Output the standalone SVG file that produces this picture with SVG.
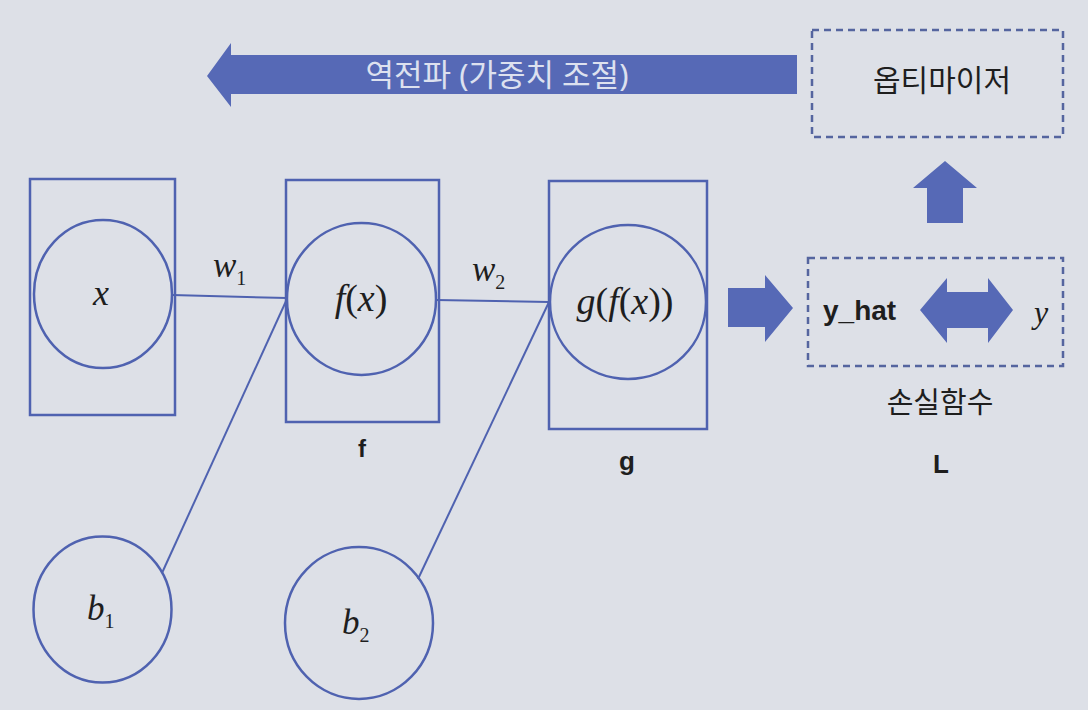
<svg xmlns="http://www.w3.org/2000/svg" width="1088" height="710" viewBox="0 0 1088 710">
<style>
.bg{fill:#dde0e7}
.box{fill:none;stroke:#4f62b0;stroke-width:2.5}
.node{fill:none;stroke:#4f62b0;stroke-width:2.5}
.dash{fill:none;stroke:#55659f;stroke-width:2.5;stroke-dasharray:7 5}
.edge{fill:none;stroke:#4f62b0;stroke-width:2}
.arrow{fill:#5669b6}
.math{font-family:"Liberation Serif",serif;font-style:italic;fill:#1e1e1e}
.sub{font-family:"Liberation Serif",serif;font-style:normal;fill:#1e1e1e}
.ko{font-family:"Noto Sans","Noto Sans CJK KR",sans-serif;fill:#1e1e1e}
.lab{font-family:"Liberation Sans",Arial,sans-serif;font-weight:bold;fill:#1e1e1e}
</style>
<rect class="bg" x="0" y="0" width="1088" height="710"/>

<g id="connectors">
<line class="edge" x1="172" y1="295" x2="287" y2="298"/>
<line class="edge" x1="436" y1="300" x2="549" y2="302"/>
<line class="edge" x1="162" y1="573" x2="287" y2="299"/>
<line class="edge" x1="418" y1="579" x2="549" y2="302"/>
<polygon class="arrow" points="728,288 765,288 765,275 793,308 765,342 765,327 728,327"/>
<polygon class="arrow" points="927,223 927,188 913,188 945,161 977,188 963,188 963,223"/>
<polygon class="arrow" points="920,310 947,278 947,292 988,292 988,278 1013,310 988,343 988,328 947,328 947,343"/>
</g>

<g id="backprop">
<polygon class="arrow" points="797,55 231,55 231,43 207,76 231,107 231,94 797,94"/>
<text class="ko" x="497" y="86" font-size="31" text-anchor="middle" style="fill:#dde1ef">역전파 (가중치 조절)</text>
</g>

<g id="optimizer">
<rect class="dash" x="812" y="30" width="251" height="107"/>
<text class="ko" x="942" y="91" font-size="30" text-anchor="middle">옵티마이저</text>
</g>

<g id="node-x">
<rect class="box" x="30" y="179" width="145" height="236"/>
<ellipse class="node" cx="103" cy="294" rx="69" ry="74"/>
<text class="math" x="101" y="305" font-size="36" text-anchor="middle">x</text>
</g>

<g id="node-f">
<rect class="box" x="286" y="180" width="153" height="242"/>
<ellipse class="node" cx="361.5" cy="299" rx="74.5" ry="76"/>
<text class="math" x="361" y="311" font-size="38" text-anchor="middle">f<tspan class="sub">(</tspan>x<tspan class="sub">)</tspan></text>
<text class="lab" x="362" y="457" font-size="24" text-anchor="middle">f</text>
</g>

<g id="node-g">
<rect class="box" x="549" y="181" width="158" height="248"/>
<ellipse class="node" cx="628" cy="302" rx="78" ry="77"/>
<text class="math" x="625" y="314" font-size="38" text-anchor="middle">g<tspan class="sub">(</tspan>f<tspan class="sub">(</tspan>x<tspan class="sub">))</tspan></text>
<text class="lab" x="627" y="470" font-size="26" text-anchor="middle">g</text>
</g>

<g id="node-b1">
<ellipse class="node" cx="102.5" cy="609.5" rx="69" ry="73"/>
<text class="math" x="87" y="620" font-size="35">b<tspan class="sub" font-size="20" dy="8">1</tspan></text>
</g>

<g id="node-b2">
<ellipse class="node" cx="359" cy="623" rx="74" ry="76"/>
<text class="math" x="342" y="634" font-size="35">b<tspan class="sub" font-size="20" dy="8">2</tspan></text>
</g>

<g id="weights">
<text class="math" x="213" y="277" font-size="35">w<tspan class="sub" font-size="20" dy="8">1</tspan></text>
<text class="math" x="472" y="281" font-size="35">w<tspan class="sub" font-size="20" dy="8">2</tspan></text>
</g>

<g id="loss">
<rect class="dash" x="808" y="258" width="255" height="108"/>
<text class="lab" x="823" y="320" font-size="28" style="font-weight:600">y_hat</text>
<text class="math" x="1034" y="323" font-size="32">y</text>
<text class="ko" x="940" y="413" font-size="29" text-anchor="middle">손실함수</text>
<text class="lab" x="941" y="473" font-size="26" text-anchor="middle">L</text>
</g>
</svg>
